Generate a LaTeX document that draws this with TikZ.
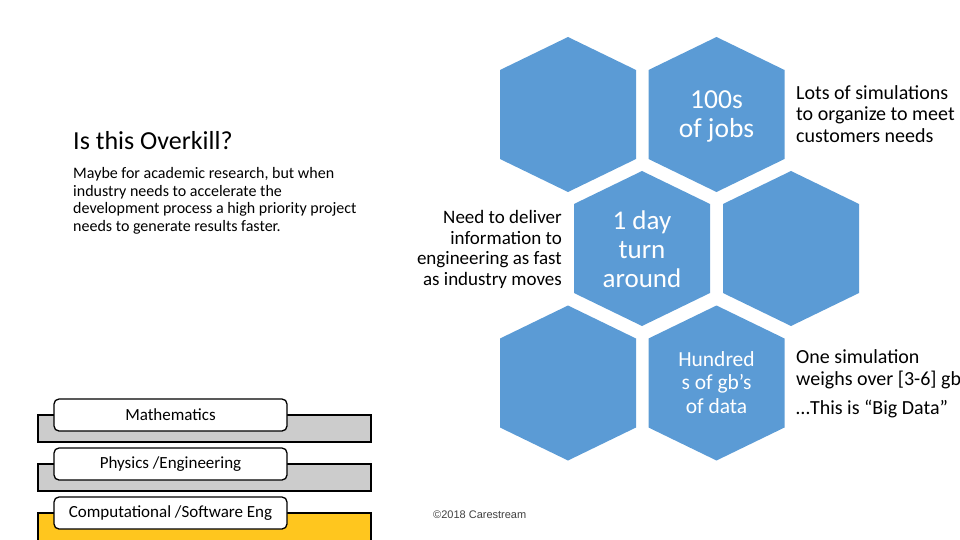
\documentclass[tikz,border=0pt]{standalone}
\usepackage{fontspec}
\setmainfont{Carlito}
\definecolor{hexblue}{HTML}{5B9BD5}
\definecolor{bargray}{HTML}{CCCCCC}
\definecolor{baryellow}{HTML}{FFC61E}
\newcommand{\fs}[2]{\fontsize{#1pt}{#2pt}\selectfont}
\newcommand{\hexat}[2]{\fill[hexblue] (#1,#2-77.5) -- (#1+68,#2-44.5) -- (#1+68,#2+44.5) -- (#1,#2+77.5) -- (#1-68,#2+44.5) -- (#1-68,#2-44.5) -- cycle;}
\tikzset{
  x=1pt,y=-1pt,
  bar/.style={draw=black,line width=1.4pt},
  tab/.style={draw=black,line width=1.3pt,fill=white,rounded corners=5pt,minimum width=233pt,minimum height=32pt,inner sep=0pt,font=\fs{17}{20},text=black},
  hextext/.style={text=white,align=center,inner sep=0pt},
  side/.style={text=black,inner sep=0pt},
}
\begin{document}
\begin{tikzpicture}
\useasboundingbox (0,0) rectangle (960,540);
\hexat{568}{114.5}
\hexat{716.5}{114.5}
\hexat{642}{248.5}
\hexat{791}{248.5}
\hexat{568}{383}
\hexat{716.5}{383}
\draw[bar,fill=bargray] (38,415) rectangle (371,442);
\draw[bar,fill=bargray] (38,464) rectangle (371,491);
\draw[bar,fill=baryellow] (38,513) rectangle (371,541);
\node[tab] (math) at (170.5,415) {Mathematics};
\node[tab] (phys) at (170.5,464) {\raisebox{-1pt}{Physics /Engineering}};
\node[tab] (comp) at (170.5,513) {\raisebox{-1pt}{Computational /Software Eng}};
\node[side,anchor=west,font=\fs{26}{30}] (title) at (73,141) {Is this Overkill?};
\node[side,anchor=north west,align=left,font=\fs{16}{17.5}] (body) at (73,167.5) {Maybe for academic research, but when\\industry needs to accelerate the\\development process a high priority project\\needs to generate results faster.};
\node[hextext,font=\fs{27.5}{29}] (jobs) at (716.5,116.5) {100s\\of jobs};
\node[hextext,font=\fs{27}{29}] (day) at (642,249) {1 day\\turn\\around};
\node[hextext,font=\fs{21.5}{23.5}] (data) at (716.5,382.5) {Hundred\\s of gb’s\\of data};
\node[side,align=right,anchor=east,font=\fs{19}{20.5}] (need) at (562,249.5) {Need to deliver\\information to\\engineering as fast\\as industry moves};
\node[side,align=left,anchor=west,font=\fs{20}{21.5}] (lots) at (796,114) {Lots of simulations\\to organize to meet\\customers needs};
\node[side,align=left,anchor=north west,font=\fs{20}{22}] (one) at (796,349) {One simulation\\weighs over [3-6] gb};
\node[side,anchor=west,font=\fs{20}{22}] (big) at (796,409) {…This is “Big Data”};
\node[anchor=west,inner sep=0pt,text=black!75,font=\fontspec{Liberation Sans}\fs{11}{12}] (copy) at (433,515) {©2018 Carestream};
\end{tikzpicture}
\end{document}
